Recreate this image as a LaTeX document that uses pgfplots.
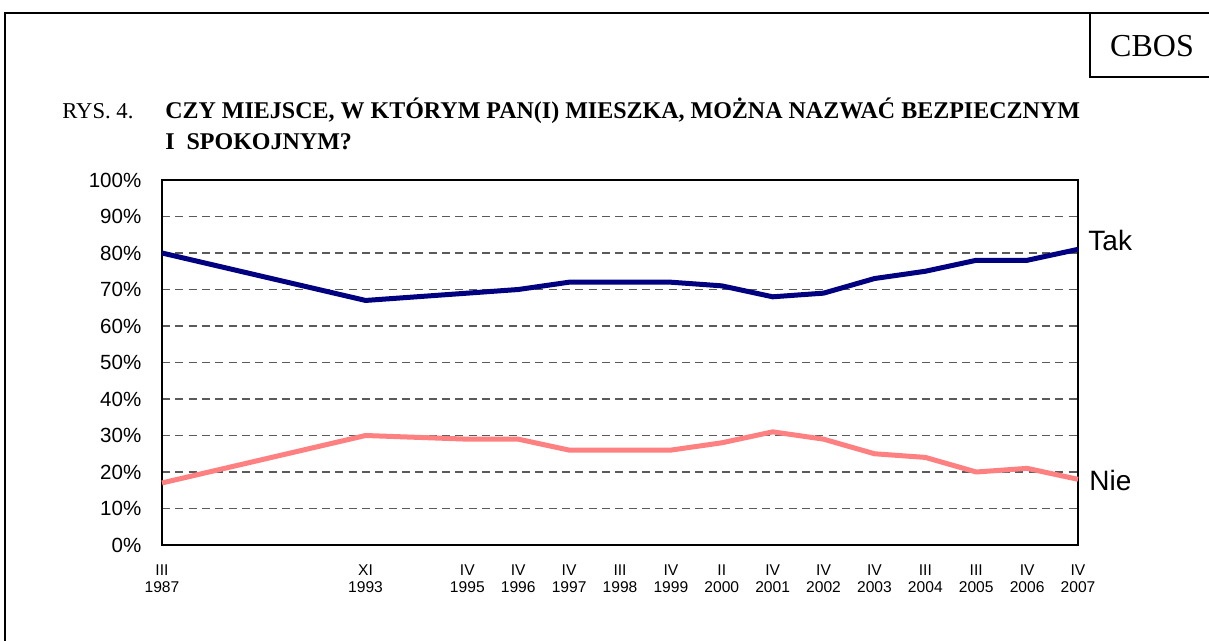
\documentclass[border=0pt]{standalone}
\usepackage{fontspec}
\setmainfont{Liberation Serif}
\newfontfamily\arial{Liberation Sans}
\usepackage{pgfplots}
\pgfplotsset{compat=1.18}
\definecolor{takc}{RGB}{0,0,128}
\definecolor{niec}{RGB}{255,128,128}
\definecolor{gridc}{RGB}{90,90,90}
\begin{document}
\begin{tikzpicture}[x=0.75pt,y=0.75pt]
\useasboundingbox (0,0) rectangle (1209,640);
\fill[white] (0,0) rectangle (1209,640);
\draw[line width=1.5pt] (5,-2) -- (5,627) -- (1212,627);
\draw[line width=1.2pt] (1090,627) -- (1090,563) -- (1212,563);
\node[font=\fontsize{24}{28}\selectfont] at (1152,594) {CBOS};
\node[anchor=base west, inner sep=0pt, font=\fontsize{17}{20}\selectfont] at (62,521) {RYS. 4.};
\node[anchor=base west, inner sep=0pt, font=\bfseries\fontsize{18}{21}\selectfont] at (165,521) {CZY MIEJSCE, W KTÓRYM PAN(I) MIESZKA, MOŻNA NAZWAĆ BEZPIECZNYM};
\node[anchor=base west, inner sep=0pt, font=\bfseries\fontsize{18}{21}\selectfont] at (165,490) {I\ \ SPOKOJNYM?};
\begin{axis}[
  at={(121.5pt,71.25pt)}, anchor=south west,
  width=687pt, height=273.75pt, scale only axis,
  xmin=0, xmax=18, ymin=0, ymax=100,
  clip=false,
  axis line style={line width=0.8pt},
  ytick={0,10,...,100},
  yticklabel={\pgfmathprintnumber{\tick}\%},
  /pgf/number format/assume math mode=true,
  yticklabel style={font=\arial\fontsize{15.4}{17}\selectfont, xshift=-12pt},
  xtick={0,4,6,7,8,9,10,11,12,13,14,15,16,17,18},
  xticklabels={III\\1987, XI\\1993, IV\\1995, IV\\1996, IV\\1997, III\\1998, IV\\1999, II\\2000, IV\\2001, IV\\2002, IV\\2003, III\\2004, III\\2005, IV\\2006, IV\\2007},
  xticklabel style={align=center, font=\arial\fontsize{11.7}{13}\selectfont, yshift=-11pt},
  major tick length=0pt,
  ymajorgrids,
  major grid style={dashed, gridc, line width=0.8pt, dash pattern=on 6pt off 4pt},
]
\addplot[color=takc, line width=3.75pt, line join=round] coordinates {(0,80)(4,67)(6,69)(7,70)(8,72)(9,72)(10,72)(11,71)(12,68)(13,69)(14,73)(15,75)(16,78)(17,78)(18,81)};
\addplot[color=niec, line width=3.75pt, line join=round] coordinates {(0,17)(4,30)(6,29)(7,29)(8,26)(9,26)(10,26)(11,28)(12,31)(13,29)(14,25)(15,24)(16,20)(17,21)(18,18)};
\node[anchor=west, inner sep=0pt, font=\arial\fontsize{21}{24}\selectfont] at (axis cs:18.2,83.3) {Tak};
\node[anchor=west, inner sep=0pt, font=\arial\fontsize{21}{24}\selectfont] at (axis cs:18.22,17.8) {Nie};
\end{axis}
\end{tikzpicture}
\end{document}
